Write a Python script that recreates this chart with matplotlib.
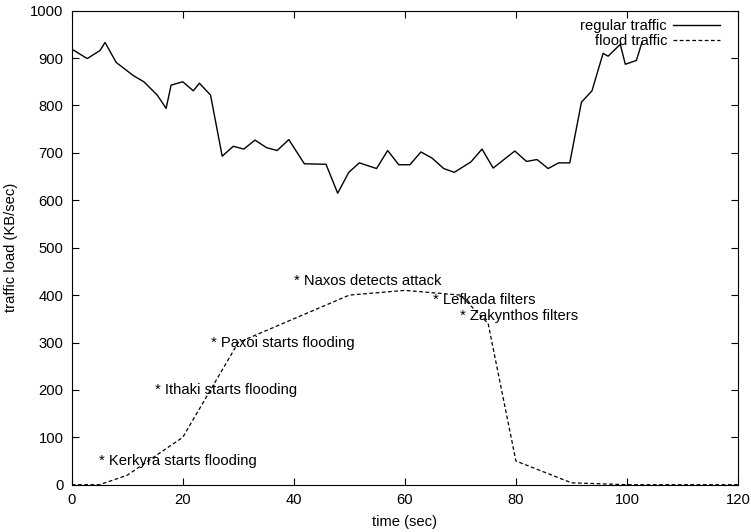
import matplotlib
matplotlib.use("Agg")
import matplotlib.pyplot as plt

plt.rcParams['font.family'] = ['Liberation Sans', 'DejaVu Sans']

# regular traffic (KB/sec)
reg_t = [0, 2.8, 5.1, 6.0, 8.0, 11.1, 13.0, 15.4, 17.0, 17.9, 20.0, 21.9, 23.0, 25.0,
         27.1, 29.1, 31.0, 33.0, 35.1, 37.0, 39.1, 41.9, 45.8, 47.9, 49.9, 51.8, 54.9,
         56.9, 58.9, 60.9, 62.9, 64.9, 67.0, 68.9, 71.9, 73.9, 75.9, 79.8, 81.9, 83.8,
         85.8, 87.7, 89.7, 91.8, 93.7, 95.7, 96.6, 98.8, 99.7, 101.7, 102.7]
reg_load = [919, 899, 916, 933, 891, 863, 850, 822, 794, 843, 850, 831, 847, 822,
            693, 714, 708, 727, 711, 705, 728, 677, 676, 615, 659, 679, 667,
            705, 675, 675, 702, 689, 667, 659, 681, 708, 668, 704, 682, 686,
            667, 679, 679, 807, 831, 910, 904, 929, 887, 895, 933]

# flood traffic
flood_t = [0, 5, 10, 20, 30, 50, 60, 70, 75, 80, 90, 100, 120]
flood_load = [0, 0, 20, 100, 300, 400, 410, 400, 340, 50, 4, 0, 0]

events = ["* Kerkyra starts flooding", "* Ithaki starts flooding",
          "* Paxoi starts flooding", "* Naxos detects attack",
          "* Lefkada filters", "* Zakynthos filters"]
event_t = [5, 15, 25, 40, 65, 70]
event_y = [50, 200, 300, 430, 390, 355]

fs = 10.6

fig = plt.figure(figsize=(7.51, 5.32), dpi=100)
ax = fig.add_axes([0.0955, 0.0889, 0.8872, 0.891])

ax.plot(reg_t, reg_load, color='black', lw=1.0, label='regular traffic')
ax.plot(flood_t, flood_load, color='black', lw=0.9, dashes=(3, 2), label='flood traffic')

for txt, t, y in zip(events, event_t, event_y):
    ax.text(t, y, txt, fontsize=fs, va='center', ha='left')

ax.set_xlim(0, 120)
ax.set_ylim(0, 1000)
ax.set_xticks(range(0, 121, 20))
ax.set_yticks(range(0, 1001, 100))
ax.tick_params(direction='in', top=True, right=True, labelsize=fs, length=5, pad=6)
ax.set_xlabel("time (sec)", fontsize=fs, labelpad=6)
ax.set_ylabel("traffic load (KB/sec)", fontsize=fs, labelpad=9)

ax.legend(loc='upper right', bbox_to_anchor=(0.973, 0.982), frameon=False,
          markerfirst=False, fontsize=fs, handlelength=3.2, borderaxespad=0,
          borderpad=0, labelspacing=0.05, handletextpad=0.4)

fig.savefig("out.png", dpi=100)
